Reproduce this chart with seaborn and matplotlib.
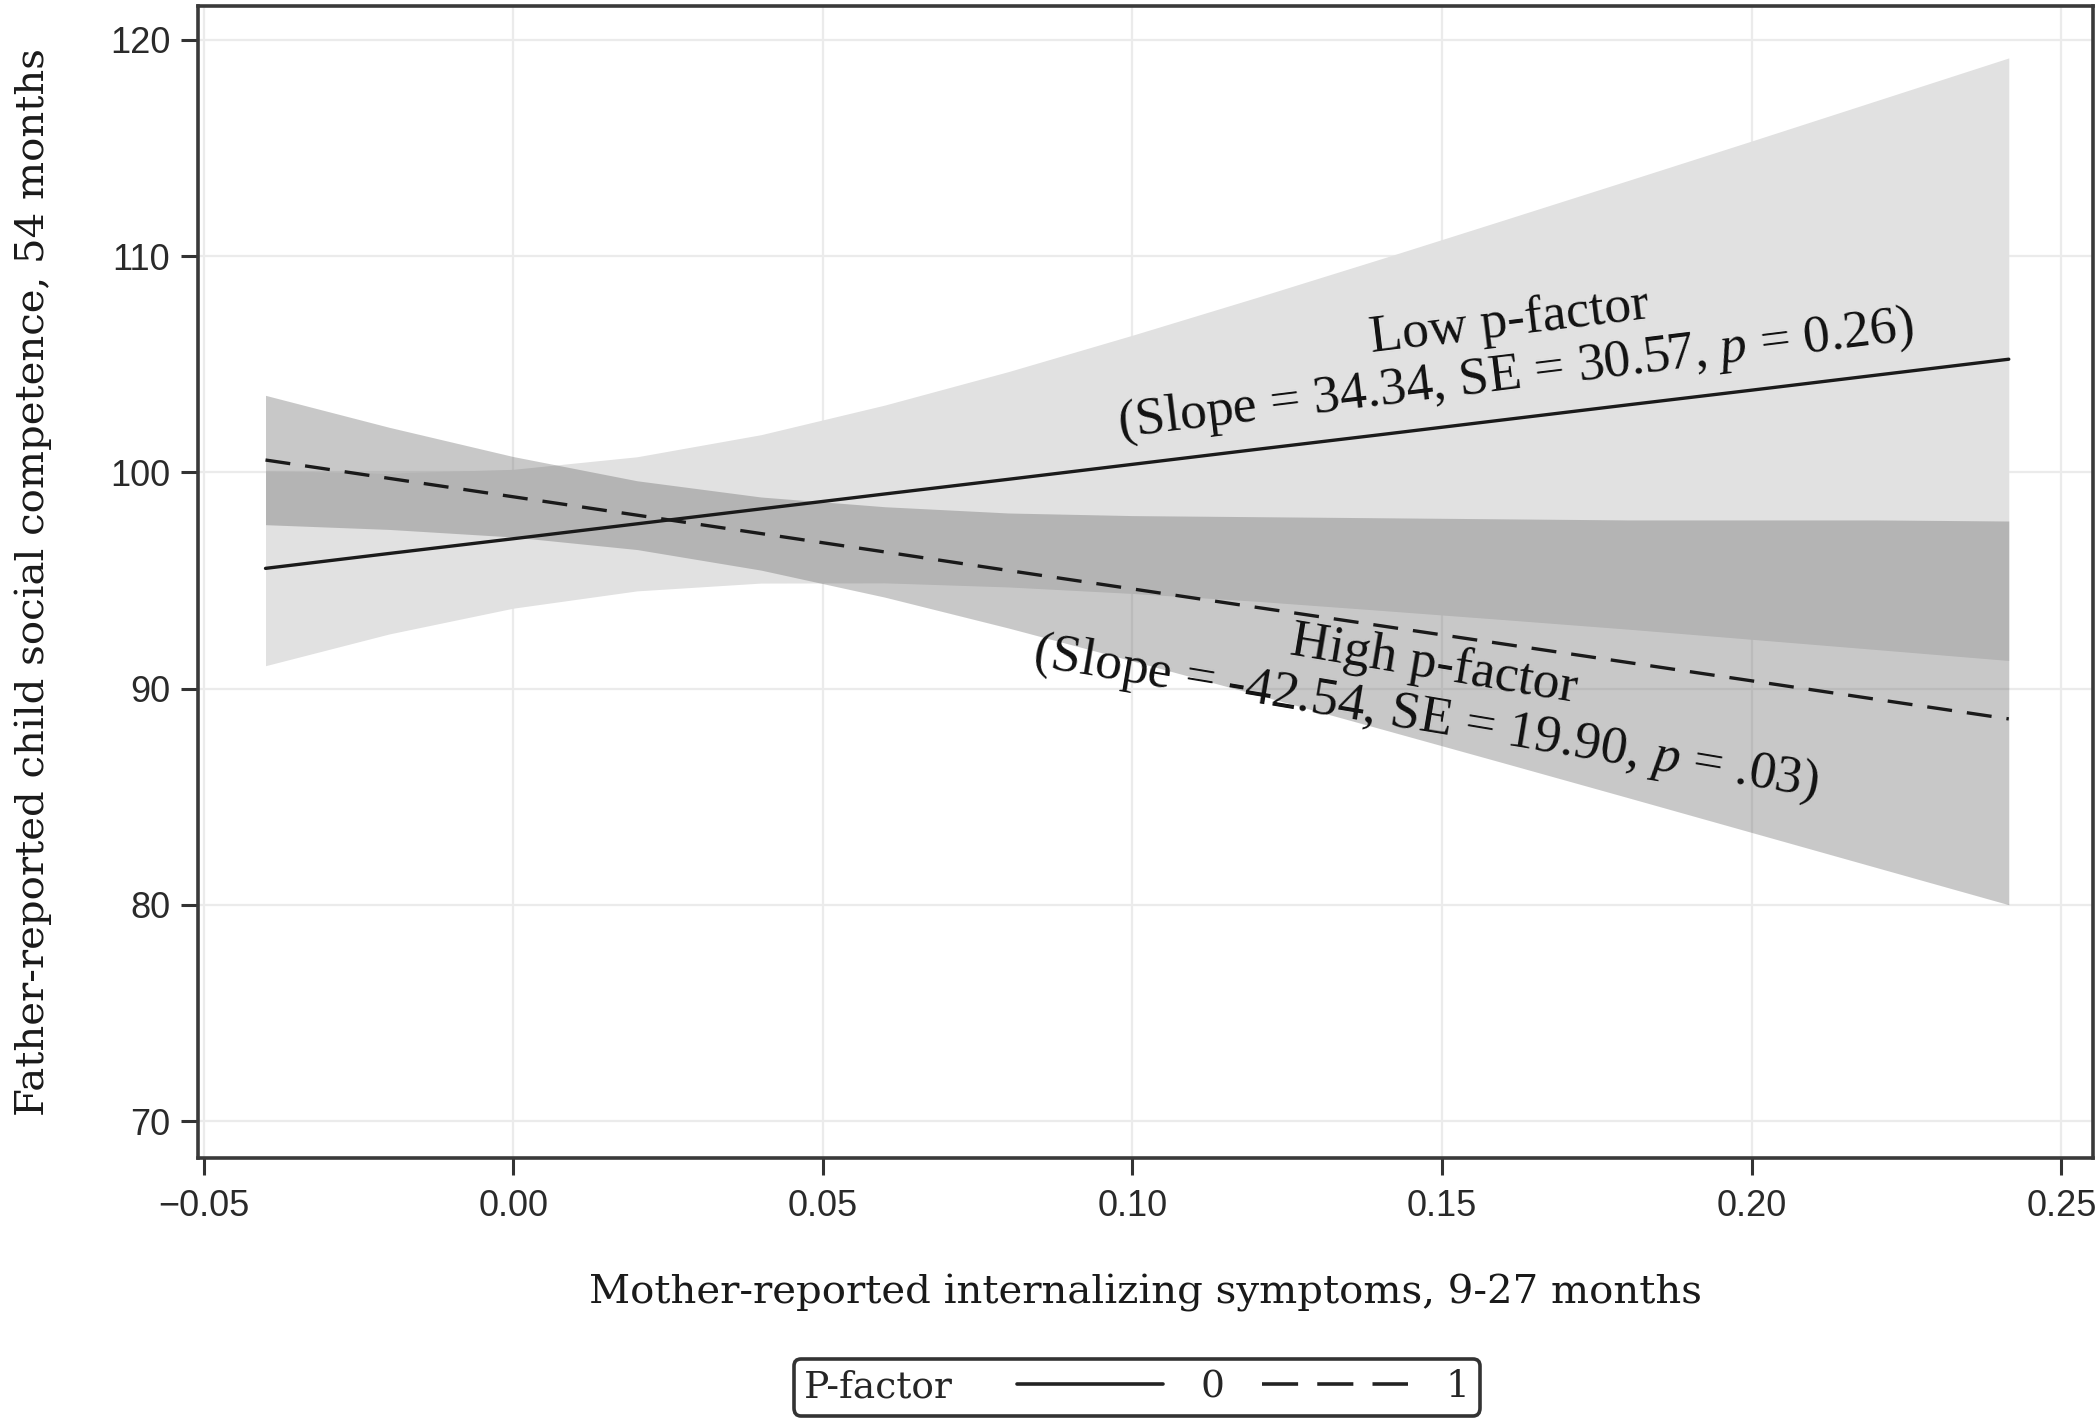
import numpy as np
import pandas as pd
import matplotlib
matplotlib.use("Agg")
import matplotlib.pyplot as plt
import seaborn as sns
from matplotlib.lines import Line2D
from matplotlib.offsetbox import HPacker

# ---------------- data ----------------
x_grid = [-0.04, -0.02, 0.00, 0.02, 0.04, 0.06, 0.08, 0.10, 0.12, 0.14, 0.16, 0.18, 0.20, 0.22, 0.2415]

low_fit = [95.56, 96.25, 96.93, 97.62, 98.31, 99.00, 99.68, 100.37, 101.06, 101.74, 102.43, 103.12, 103.80, 104.49, 105.23]
low_lo = [91.06, 92.53, 93.72, 94.52, 94.88, 94.89, 94.70, 94.40, 94.04, 93.62, 93.19, 92.75, 92.28, 91.81, 91.30]
low_hi = [100.06, 99.97, 100.14, 100.72, 101.74, 103.11, 104.66, 106.34, 108.08, 109.86, 111.67, 113.49, 115.32, 117.17, 119.16]

high_fit = [100.57, 99.72, 98.87, 98.02, 97.17, 96.32, 95.46, 94.61, 93.76, 92.91, 92.06, 91.21, 90.36, 89.51, 88.60]
high_lo = [97.58, 97.36, 97.01, 96.43, 95.48, 94.23, 92.80, 91.28, 89.73, 88.15, 86.56, 84.96, 83.35, 81.74, 80.01]
high_hi = [103.56, 102.08, 100.73, 99.61, 98.86, 98.41, 98.12, 98.00, 97.95, 97.90, 97.85, 97.80, 97.80, 97.80, 97.75]

x_ticks = [-0.05, 0.00, 0.05, 0.10, 0.15, 0.20, 0.25]
x_tick_labels = ["\u22120.05", "0.00", "0.05", "0.10", "0.15", "0.20", "0.25"]
y_ticks = [70, 80, 90, 100, 110, 120]
y_tick_labels = ["70", "80", "90", "100", "110", "120"]

groups = ["0", "1"]
legend_title = "P-factor"
x_label = "Mother-reported internalizing symptoms, 9-27 months"
y_label = "Father-reported child social competence, 54 months"
low_text = "Low p-factor\n(Slope = 34.34, SE = 30.57, $p$ = 0.26)"
high_text = "High p-factor\n(Slope = -42.54, SE = 19.90, $p$ = .03)"

# ---------------- styling ----------------
sns.set_theme(style="white")
plt.rcParams["font.family"] = ["Liberation Serif", "DejaVu Serif"]
plt.rcParams["mathtext.fontset"] = "custom"
plt.rcParams["mathtext.rm"] = "Liberation Serif"
plt.rcParams["mathtext.it"] = "Liberation Serif:italic"

df = pd.DataFrame({
    "x": x_grid + x_grid,
    "y": low_fit + high_fit,
    "P-factor": [groups[0]] * len(x_grid) + [groups[1]] * len(x_grid),
})

fig = plt.figure(figsize=(21.0, 14.19), dpi=100)
ax = fig.add_axes([198 / 2100, 1 - 1158 / 1419, (2093 - 198) / 2100, (1158 - 6) / 1419])

ax.set_axisbelow(True)
ax.grid(True, color="#ebebeb", lw=1.6)

ax.fill_between(x_grid, low_lo, low_hi, color="#e1e1e1", lw=0, zorder=1)
ax.fill_between(x_grid, high_lo, high_hi, color="#5a5a5a", alpha=0.33, lw=0, zorder=1.5)

sns.lineplot(data=df, x="x", y="y", style="P-factor", dashes={"0": "", "1": (7.5, 4.5)},
             color="#1a1a1a", lw=2.4, legend=False, estimator=None, sort=False, ax=ax, zorder=3)

ax.set_xlim(-0.0509, 0.2551)
ax.set_ylim(68.3, 121.56)
ax.set_xticks(x_ticks)
ax.set_xticklabels(x_tick_labels, family="Liberation Sans", fontsize=26, color="#2a2a2a")
ax.set_yticks(y_ticks)
ax.set_yticklabels(y_tick_labels, family="Liberation Sans", fontsize=26, color="#2a2a2a")
ax.tick_params(axis="both", which="major", bottom=True, left=True, direction="out",
               length=12, width=2.2, color="#333333")
ax.tick_params(axis="x", pad=10)
ax.tick_params(axis="y", pad=8)

for s in ax.spines.values():
    s.set_visible(True)
    s.set_color("#3a3a3a")
    s.set_linewidth(2.6)

ax.set_xlabel(x_label, family="DejaVu Serif", fontsize=29, color="#1a1a1a", labelpad=36)
ax.set_ylabel(y_label, family="DejaVu Serif", fontsize=29, color="#1a1a1a", labelpad=42)

ax.text(0.1614, 105.68, low_text, rotation=7, rotation_mode="anchor", ha="center", va="center",
        multialignment="center", fontsize=38.5, color="#111111", linespacing=1.1, zorder=4)
ax.text(0.148, 89.81, high_text, rotation=-9.5, rotation_mode="anchor", ha="center", va="center",
        multialignment="center", fontsize=38.5, color="#111111", linespacing=1.1, zorder=4)

# ---------------- legend (title inline, as in the reference) ----------------
handles = [Line2D([], [], color="#222222", lw=2.6, linestyle="-"),
           Line2D([], [], color="#222222", lw=2.6, linestyle=(0, (10, 5.3)))]
leg = fig.legend(handles, groups, title=legend_title, ncol=2, loc="center",
                 bbox_to_anchor=(1137 / 2100, (1419 - 1387) / 1419),
                 prop={"family": "DejaVu Serif", "size": 27},
                 title_fontproperties={"family": "DejaVu Serif", "size": 27},
                 handlelength=3.9, handletextpad=1.0, columnspacing=1.0,
                 borderpad=0.28, frameon=True, fancybox=True, borderaxespad=0)
fs = leg._fontsize
leg._legend_box = HPacker(pad=leg.borderpad * fs, sep=1.7 * fs, align="center",
                          children=[leg._legend_title_box, leg._legend_handle_box])
leg._legend_box.set_figure(fig)
leg._legend_box.set_offset(leg._findoffset)
frame = leg.get_frame()
frame.set_edgecolor("#333333")
frame.set_linewidth(2.6)
frame.set_facecolor("white")
frame.set_alpha(1)

fig.savefig("out.png", dpi=100, facecolor="white")
